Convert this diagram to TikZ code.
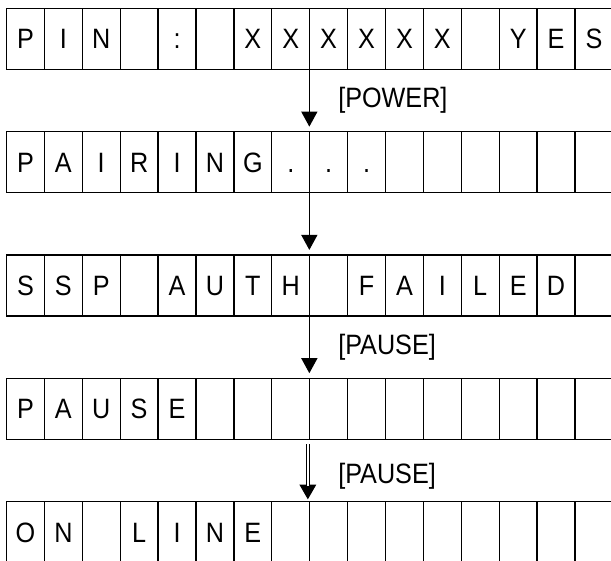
\documentclass[tikz,border=0pt]{standalone}
\usepackage{fontspec}
\newfontfamily\lcdfont[FakeStretch=0.9]{Liberation Sans}
\usetikzlibrary{calc}
\usetikzlibrary{arrows.meta}
\tikzset{
	>={Triangle[width=16pt,length=15pt]},
	cell/.style={
		rectangle,
		draw=black, line width=1.3pt,
		minimum width=37.9pt,
		minimum height=61pt,
		inner sep=0pt,
		text height=20pt, text depth=0pt,
		font=\lcdfont\fontsize{28}{28}\selectfont},
	line/.style={draw, line width=1.3pt, ->, shorten >=4.5pt},
	keylabel/.style={anchor=west, inner sep=0pt, xshift=29pt,
		font=\lcdfont\fontsize{28}{28}\selectfont},
}

\begin{document}
\begin{tikzpicture}[x=1pt,y=-1pt]
	\useasboundingbox (0,0) rectangle (611,561);

	% the five display lines, 16 characters each
	\foreach \ch [count=\i] in {P,I,N, ,:, ,X,X,X,X,X,X, ,Y,E,S}
		\node[cell] (pin\i) at ({25.45+37.9*(\i-1)},39) {\ch};
	\foreach \ch [count=\i] in {P,A,I,R,I,N,G,.,.,., , , , , , }
		\node[cell] (pair\i) at ({25.45+37.9*(\i-1)},162.3) {\ch};
	\foreach \ch [count=\i] in {S,S,P, ,A,U,T,H, ,F,A,I,L,E,D, }
		\node[cell] (fail\i) at ({25.45+37.9*(\i-1)},285.6) {\ch};
	\foreach \ch [count=\i] in {P,A,U,S,E, , , , , , , , , , , }
		\node[cell] (pause\i) at ({25.45+37.9*(\i-1)},408.9) {\ch};
	\foreach \ch [count=\i] in {O,N, ,L,I,N,E, , , , , , , , , }
		\node[cell] (online\i) at ({25.45+37.9*(\i-1)},532.2) {\ch};

	% key presses
	\draw[line] ([xshift=-1pt]pin8.south east) -- ([xshift=-1pt]pair8.north east);
	\node[keylabel] (power) at ($(pin9.south west)!0.5!(pair9.north west)$) {[POWER]};

	\draw[line] ([xshift=-1pt]pair8.south east) -- ([xshift=-1pt]fail8.north east);

	\draw[line] ([xshift=-1pt]fail8.south east) -- ([xshift=-1pt]pause8.north east);
	\node[keylabel] (pause) at ($(fail9.south west)!0.5!(pause9.north west)$) {[PAUSE]};

	\draw[line, line width=3.4pt, shorten <=4pt, shorten >=1.5pt]
		([xshift=-2.5pt]pause8.south east) -- ([xshift=-2.5pt]online8.north east);
	\draw[white, line width=1.3pt, shorten <=4pt]
		([xshift=-2.5pt]pause8.south east) -- ([xshift=-2.5pt,yshift=15pt]online8.north east);
	\node[keylabel, yshift=-6pt] (pauseagain) at ($(pause9.south west)!0.5!(online9.north west)$) {[PAUSE]};
\end{tikzpicture}
\end{document}
